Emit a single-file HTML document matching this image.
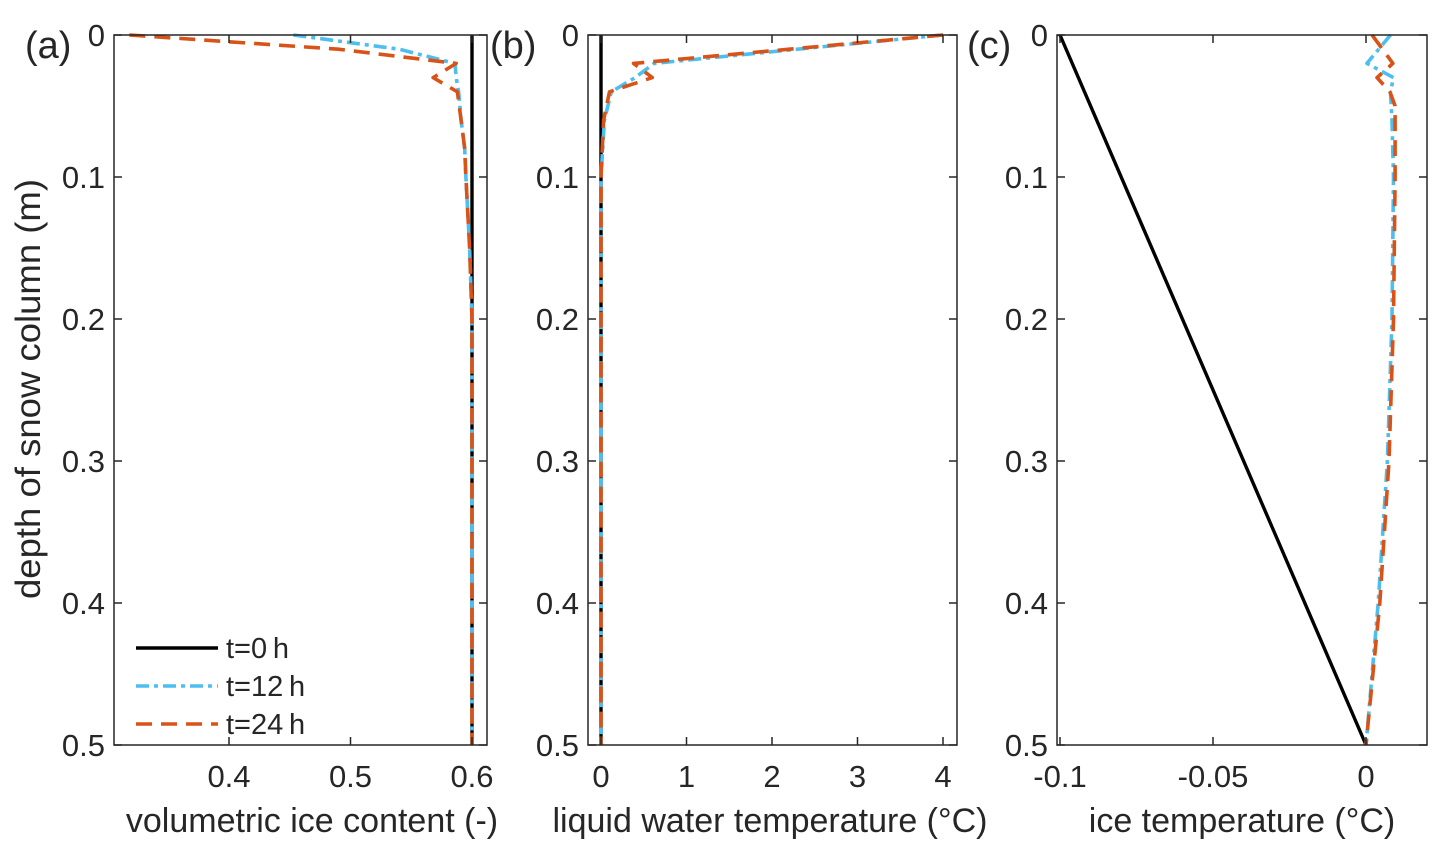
<!DOCTYPE html>
<html><head><meta charset="utf-8"><style>
html,body{margin:0;padding:0;background:#fff;}
svg text{font-family:"Liberation Sans",Arial,sans-serif;fill:#262626;}
</style></head><body>
<svg id="fig" width="1444" height="860" viewBox="0 0 1444 860" xmlns="http://www.w3.org/2000/svg">
<text x="40" y="389" font-size="35" text-anchor="middle" textLength="420" lengthAdjust="spacingAndGlyphs" transform="rotate(-90 40 389)" fill="#262626">depth of snow column (m)</text>
</svg>
<script>
// shared depth axis
const yTicks = [0, 0.1, 0.2, 0.3, 0.4, 0.5];
const yTickLabels = ['0', '0.1', '0.2', '0.3', '0.4', '0.5'];
// panel (a): volumetric ice content
const aDepth0 = [0, 0.5];
const aT0 = [0.6, 0.6];
const aDepth12 = [0, 0.01, 0.02, 0.03, 0.04, 0.06, 0.08, 0.1, 0.15, 0.2, 0.5];
const aT12 = [0.453, 0.54, 0.586, 0.587, 0.589, 0.591, 0.594, 0.595, 0.598, 0.6, 0.6];
const aDepth24 = [0, 0.01, 0.02, 0.03, 0.04, 0.06, 0.08, 0.1, 0.15, 0.2, 0.5];
const aT24 = [0.318, 0.49, 0.587, 0.568, 0.588, 0.591, 0.594, 0.595, 0.598, 0.6, 0.6];
const aXTicks = [0.4, 0.5, 0.6];
const aXTickLabels = ['0.4', '0.5', '0.6'];
// panel (b): liquid water temperature
const bDepth0 = [0, 0.5];
const bT0 = [0, 0];
const bDepth12 = [0, 0.01, 0.02, 0.03, 0.04, 0.06, 0.1, 0.5];
const bT12 = [4, 2.3, 0.62, 0.4, 0.12, 0.04, 0, 0];
const bDepth24 = [0, 0.01, 0.02, 0.03, 0.04, 0.06, 0.1, 0.5];
const bT24 = [4, 2.2, 0.38, 0.6, 0.1, 0.03, 0, 0];
const bXTicks = [0, 1, 2, 3, 4];
const bXTickLabels = ['0', '1', '2', '3', '4'];
// panel (c): ice temperature
const cDepth0 = [0, 0.5];
const cT0 = [-0.1, 0];
const cDepth12 = [0, 0.02, 0.03, 0.04, 0.06, 0.1, 0.2, 0.3, 0.4, 0.5];
const cT12 = [0.008, 0.0003, 0.009, 0.008, 0.0085, 0.009, 0.0085, 0.007, 0.004, 0];
const cDepth24 = [0, 0.02, 0.03, 0.04, 0.05, 0.1, 0.2, 0.3, 0.4, 0.5];
const cT24 = [0.002, 0.0088, 0.0036, 0.0078, 0.0095, 0.0095, 0.009, 0.0075, 0.0045, 0];
const cXTicks = [-0.1, -0.05, 0];
const cXTickLabels = ['-0.1', '-0.05', '0'];

const NS = 'http://www.w3.org/2000/svg';
const svg = document.getElementById('fig');
function mk(tag, attrs, parent) {
  const e = document.createElementNS(NS, tag);
  for (const k in attrs) e.setAttribute(k, attrs[k]);
  (parent || svg).appendChild(e);
  return e;
}
const TOP = 35, BOT = 745;
function yScale(d) { return TOP + (d / 0.5) * (BOT - TOP); }

function panel(cfg) {
  const g = mk('g', {});
  
  
  const xs = v => cfg.px0 + (v - cfg.v0) / (cfg.v1 - cfg.v0) * (cfg.px1 - cfg.px0);
  const series = [
    {d: cfg.d0, v: cfg.t0, color: '#000', dash: '', w: 3.4, name: 't0-line'},
    {d: cfg.d12, v: cfg.t12, color: '#4DBEEE', dash: '13 5 4 5', w: 3.6, name: 't12-line'},
    {d: cfg.d24, v: cfg.t24, color: '#D95319', dash: '16 9', w: 3.6, name: 't24-line'}
  ];
  series.forEach(s => {
    const pts = s.d.map((d, i) => xs(s.v[i]).toFixed(1) + ',' + yScale(d).toFixed(1)).join(' ');
    const p = mk('polyline', {points: pts, fill: 'none', stroke: s.color, 'stroke-width': s.w, 'stroke-dasharray': s.dash, 'stroke-linejoin': 'round'}, g);
    
    
  });
  const box = mk('rect', {x: cfg.L, y: TOP, width: cfg.R - cfg.L, height: BOT - TOP, fill: 'none', stroke: '#262626', 'stroke-width': 1.5}, g);
  
  
  yTicks.forEach((t, i) => {
    const y = yScale(t);
    mk('line', {x1: cfg.L, x2: cfg.L + 8, y1: y, y2: y, stroke: '#262626', 'stroke-width': 1.5}, g);
    mk('line', {x1: cfg.R, x2: cfg.R - 8, y1: y, y2: y, stroke: '#262626', 'stroke-width': 1.5}, g);
    const tx = mk('text', {x: cfg.L - 9, y: y + 11, 'font-size': 31, 'text-anchor': 'end'}, g);
    tx.textContent = yTickLabels[i];
    
    
  });
  cfg.xt.forEach((t, i) => {
    const x = xs(t);
    mk('line', {x1: x, x2: x, y1: BOT, y2: BOT - 8, stroke: '#262626', 'stroke-width': 1.5}, g);
    mk('line', {x1: x, x2: x, y1: TOP, y2: TOP + 8, stroke: '#262626', 'stroke-width': 1.5}, g);
    const tx = mk('text', {x: x, y: 787, 'font-size': 31, 'text-anchor': 'middle'}, g);
    tx.textContent = cfg.xl[i];
    
    
  });
  const title = mk('text', {x: cfg.titleX, y: 832, 'font-size': 34, 'text-anchor': 'middle'}, g);
  title.textContent = cfg.title;
  
  
  const lab = mk('text', {x: cfg.labX, y: 58, 'font-size': 38, fill: '#000'}, g);
  lab.textContent = cfg.lab;
  
  
}

panel({name: 'panel-a', L: 114, R: 487, px0: 229, px1: 472, v0: 0.4, v1: 0.6,
  d0: aDepth0, t0: aT0, d12: aDepth12, t12: aT12, d24: aDepth24, t24: aT24,
  xt: aXTicks, xl: aXTickLabels, title: 'volumetric ice content (-)', titleX: 312, lab: '(a)', labX: 25});
panel({name: 'panel-b', L: 588, R: 957, px0: 601, px1: 943, v0: 0, v1: 4,
  d0: bDepth0, t0: bT0, d12: bDepth12, t12: bT12, d24: bDepth24, t24: bT24,
  xt: bXTicks, xl: bXTickLabels, title: 'liquid water temperature (°C)', titleX: 770, lab: '(b)', labX: 490});
panel({name: 'panel-c', L: 1057, R: 1427, px0: 1060, px1: 1366, v0: -0.1, v1: 0,
  d0: cDepth0, t0: cT0, d12: cDepth12, t12: cT12, d24: cDepth24, t24: cT24,
  xt: cXTicks, xl: cXTickLabels, title: 'ice temperature (°C)', titleX: 1242, lab: '(c)', labX: 967});

const leg = mk('g', {});


const legItems = [
  {t: 't=0\u2009h', c: '#000', dash: ''},
  {t: 't=12\u2009h', c: '#4DBEEE', dash: '13 5 4 5'},
  {t: 't=24\u2009h', c: '#D95319', dash: '16 9'}
];
legItems.forEach((it, i) => {
  const y = 648 + i * 38;
  const ln = mk('line', {x1: 136, x2: 218, y1: y, y2: y, stroke: it.c, 'stroke-width': 3.6, 'stroke-dasharray': it.dash}, leg);
  
  
  const tx = mk('text', {x: 226, y: y + 10, 'font-size': 29, fill: '#000'}, leg);
  tx.textContent = it.t;
  
  
});
</script>
</body></html>
